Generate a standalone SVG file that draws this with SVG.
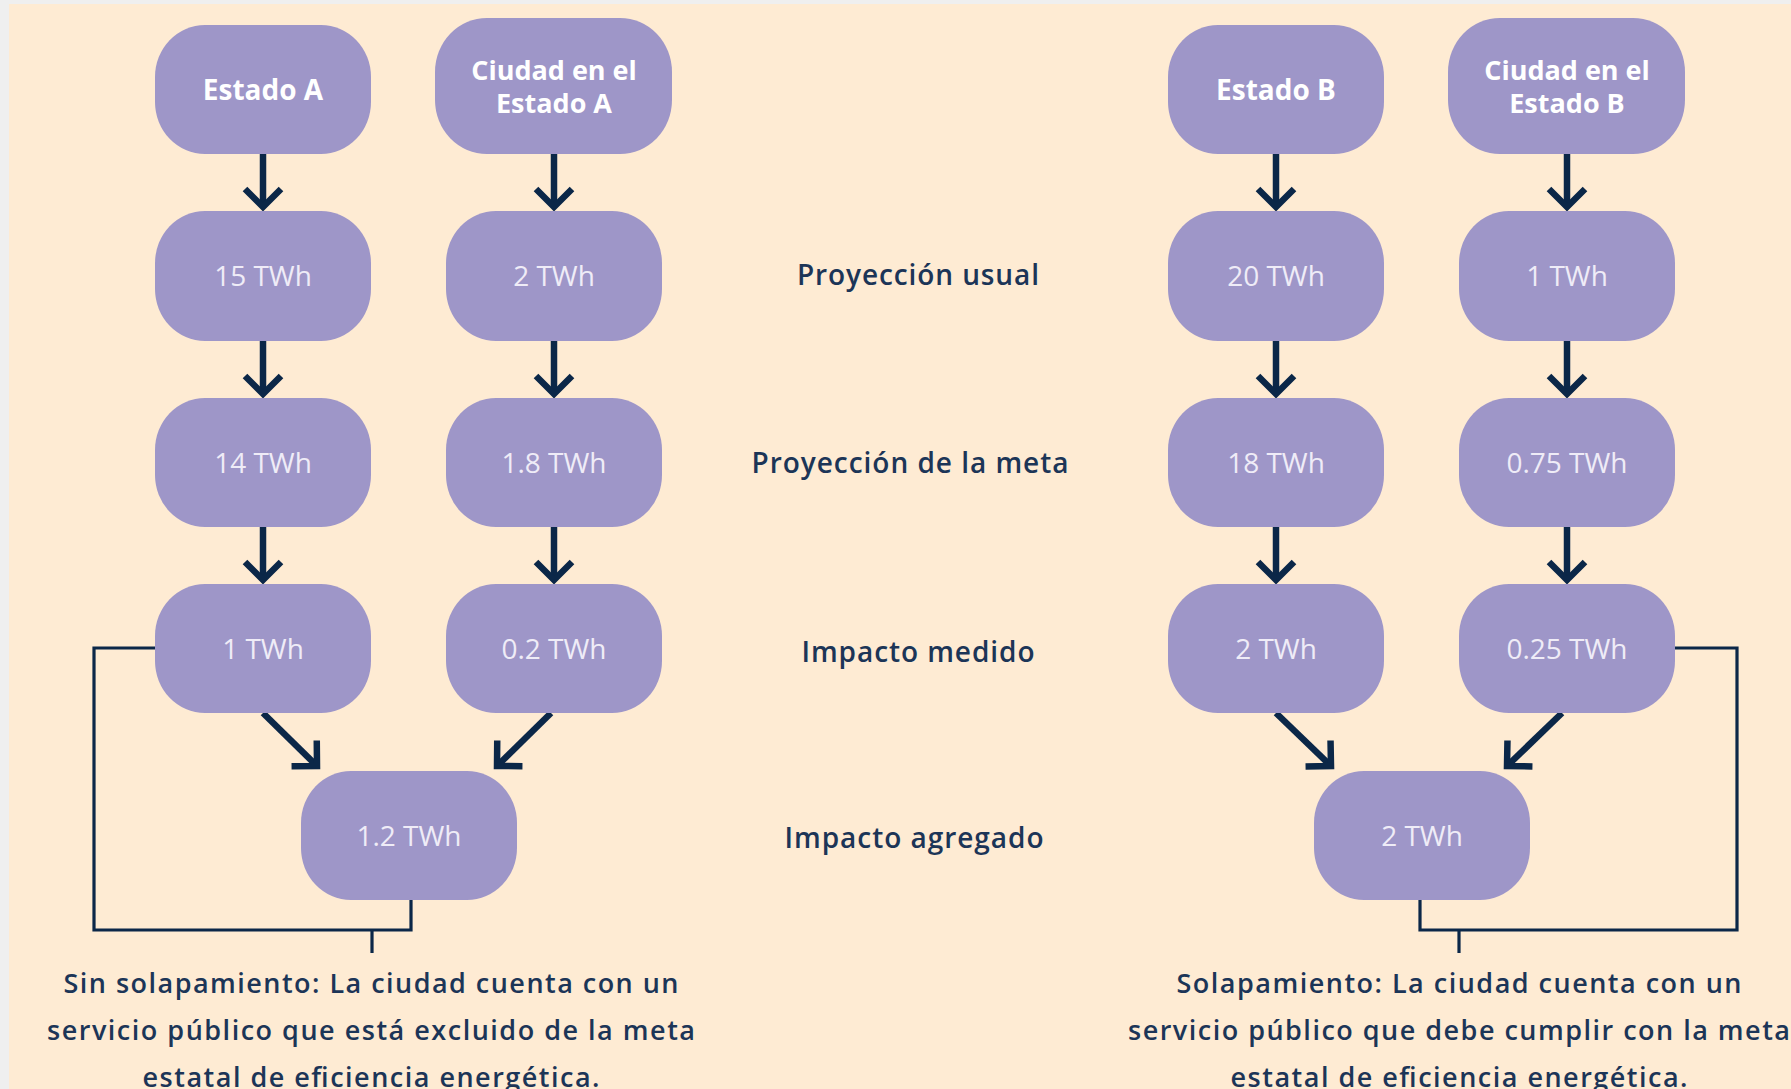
<svg xmlns="http://www.w3.org/2000/svg" width="1791" height="1089" viewBox="0 0 1791 1089">
<style>
.bg{fill:#FEEBD3}
.node{fill:#9E96C8}
.lbl{font-family:"Open Sans","Noto Sans",sans-serif;font-weight:700;font-size:28px;fill:#FFFFFF;text-anchor:middle}
.lbl2{font-family:"Open Sans","Noto Sans",sans-serif;font-weight:700;font-size:27px;fill:#FFFFFF;text-anchor:middle}
.val{font-family:"Open Sans","Noto Sans",sans-serif;font-weight:400;font-size:28px;fill:#EFECF7;text-anchor:middle}
.mid{font-family:"Open Sans","Noto Sans",sans-serif;font-weight:600;font-size:28px;fill:#1C3557;text-anchor:middle}
.cap{font-family:"Open Sans","Noto Sans",sans-serif;font-weight:600;font-size:27px;fill:#1C3557;text-anchor:middle}
.arr{fill:none;stroke:#0B2748;stroke-width:6.5;marker-end:url(#chev)}
.brk{fill:none;stroke:#0B2748;stroke-width:3.2}
</style>
<defs>
<marker id="chev" markerUnits="userSpaceOnUse" markerWidth="60" markerHeight="60" viewBox="-30 -30 60 60" refX="0" refY="0" orient="auto" overflow="visible">
<path d="M-18,-18 L0,0 L-18,18" fill="none" stroke="#0B2748" stroke-width="6.5" stroke-linejoin="miter"/>
</marker>
</defs>
<rect x="0" y="0" width="1791" height="1089" fill="#EFEFEF"/>
<rect class="bg" x="9" y="4" width="1782" height="1085"/>

<g id="connectors">
<path class="arr" d="M263,154 V207"/>
<path class="arr" d="M263,341 V394"/>
<path class="arr" d="M263,527 V580"/>
<path class="arr" d="M554,154 V207"/>
<path class="arr" d="M554,341 V394"/>
<path class="arr" d="M554,527 V580"/>
<path class="arr" d="M263,713 L317,766"/>
<path class="arr" d="M551,713 L497,766"/>
<path class="arr" d="M1276,154 V207"/>
<path class="arr" d="M1276,341 V394"/>
<path class="arr" d="M1276,527 V580"/>
<path class="arr" d="M1567,154 V207"/>
<path class="arr" d="M1567,341 V394"/>
<path class="arr" d="M1567,527 V580"/>
<path class="arr" d="M1276,713 L1331,766"/>
<path class="arr" d="M1562,713 L1507,766"/>
<path class="brk" d="M155,648 H94 V930 H411 V900"/>
<path class="brk" d="M372,930 V953"/>
<path class="brk" d="M1675,648 H1737 V930 H1420 V900"/>
<path class="brk" d="M1459,930 V953"/>
</g>

<g id="estado-a"><rect class="node" x="155" y="25" width="216" height="129" rx="50" ry="52"/><text class="lbl" x="263" y="100">Estado A</text></g>
<g id="ciudad-a"><rect class="node" x="435" y="18" width="237" height="136" rx="52" ry="54"/><text class="lbl2" x="554" y="80">Ciudad en el</text><text class="lbl2" x="554" y="113">Estado A</text></g>
<g id="a-usual"><rect class="node" x="155" y="211" width="216" height="130" rx="50" ry="52"/><text class="val" x="263" y="286">15 TWh</text></g>
<g id="ca-usual"><rect class="node" x="446" y="211" width="216" height="130" rx="50" ry="52"/><text class="val" x="554" y="286">2 TWh</text></g>
<g id="a-meta"><rect class="node" x="155" y="398" width="216" height="129" rx="50" ry="52"/><text class="val" x="263" y="473">14 TWh</text></g>
<g id="ca-meta"><rect class="node" x="446" y="398" width="216" height="129" rx="50" ry="52"/><text class="val" x="554" y="473">1.8 TWh</text></g>
<g id="a-medido"><rect class="node" x="155" y="584" width="216" height="129" rx="50" ry="52"/><text class="val" x="263" y="659">1 TWh</text></g>
<g id="ca-medido"><rect class="node" x="446" y="584" width="216" height="129" rx="50" ry="52"/><text class="val" x="554" y="659">0.2 TWh</text></g>
<g id="a-agregado"><rect class="node" x="301" y="771" width="216" height="129" rx="50" ry="52"/><text class="val" x="409" y="846">1.2 TWh</text></g>

<g id="estado-b"><rect class="node" x="1168" y="25" width="216" height="129" rx="50" ry="52"/><text class="lbl" x="1276" y="100">Estado B</text></g>
<g id="ciudad-b"><rect class="node" x="1448" y="18" width="237" height="136" rx="52" ry="54"/><text class="lbl2" x="1567" y="80">Ciudad en el</text><text class="lbl2" x="1567" y="113">Estado B</text></g>
<g id="b-usual"><rect class="node" x="1168" y="211" width="216" height="130" rx="50" ry="52"/><text class="val" x="1276" y="286">20 TWh</text></g>
<g id="cb-usual"><rect class="node" x="1459" y="211" width="216" height="130" rx="50" ry="52"/><text class="val" x="1567" y="286">1 TWh</text></g>
<g id="b-meta"><rect class="node" x="1168" y="398" width="216" height="129" rx="50" ry="52"/><text class="val" x="1276" y="473">18 TWh</text></g>
<g id="cb-meta"><rect class="node" x="1459" y="398" width="216" height="129" rx="50" ry="52"/><text class="val" x="1567" y="473">0.75 TWh</text></g>
<g id="b-medido"><rect class="node" x="1168" y="584" width="216" height="129" rx="50" ry="52"/><text class="val" x="1276" y="659">2 TWh</text></g>
<g id="cb-medido"><rect class="node" x="1459" y="584" width="216" height="129" rx="50" ry="52"/><text class="val" x="1567" y="659">0.25 TWh</text></g>
<g id="b-agregado"><rect class="node" x="1314" y="771" width="216" height="129" rx="50" ry="52"/><text class="val" x="1422" y="846">2 TWh</text></g>

<g id="row-labels">
<text class="mid" x="918" y="285" textLength="242" lengthAdjust="spacing">Proyección usual</text>
<text class="mid" x="910" y="473" textLength="317" lengthAdjust="spacing">Proyección de la meta</text>
<text class="mid" x="918" y="662" textLength="233" lengthAdjust="spacing">Impacto medido</text>
<text class="mid" x="914" y="848" textLength="259" lengthAdjust="spacing">Impacto agregado</text>
</g>

<g id="caption-a">
<text class="cap" x="371" y="993" textLength="615" lengthAdjust="spacing">Sin solapamiento: La ciudad cuenta con un</text>
<text class="cap" x="371" y="1040" textLength="648" lengthAdjust="spacing">servicio público que está excluido de la meta</text>
<text class="cap" x="371" y="1087" textLength="457" lengthAdjust="spacing">estatal de eficiencia energética.</text>
</g>
<g id="caption-b">
<text class="cap" x="1459" y="993" textLength="565" lengthAdjust="spacing">Solapamiento: La ciudad cuenta con un</text>
<text class="cap" x="1459" y="1040" textLength="662" lengthAdjust="spacing">servicio público que debe cumplir con la meta</text>
<text class="cap" x="1459" y="1087" textLength="457" lengthAdjust="spacing">estatal de eficiencia energética.</text>
</g>
</svg>
